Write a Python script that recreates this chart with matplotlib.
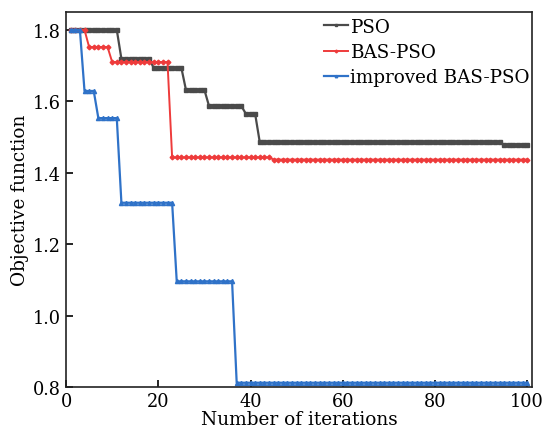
import matplotlib.pyplot as plt

plt.rcParams['font.family'] = ['DejaVu Serif']

# iterations 1..100, step values
iterations = list(range(1, 101))
pso = ([1.800] * 11 + [1.719] * 7 + [1.694] * 7 + [1.632] * 5 +
       [1.587] * 8 + [1.565] * 3 + [1.486] * 53 + [1.478] * 6)
bas_pso = [1.800] * 4 + [1.752] * 5 + [1.710] * 13 + [1.443] * 22 + [1.437] * 56
improved = [1.800] * 3 + [1.629] * 3 + [1.553] * 5 + [1.316] * 12 + [1.096] * 13 + [0.812] * 64

labels = ['PSO', 'BAS-PSO', 'improved BAS-PSO']
xticks = [0, 20, 40, 60, 80, 100]
yticks = [0.8, 1.0, 1.2, 1.4, 1.6, 1.8]

fig = plt.figure(figsize=(5.46, 4.35), dpi=100)
ax = fig.add_axes([0.121, 0.108, 0.853, 0.862])

ax.plot(iterations, pso, color='#4a4a4a', marker='s', markersize=2.6, linewidth=1.6, label=labels[0])
ax.plot(iterations, bas_pso, color='#ee3b3b', marker='D', markersize=2.4, linewidth=1.4, label=labels[1])
ax.plot(iterations, improved, color='#2f72c8', marker='^', markersize=3, linewidth=1.6, label=labels[2])

ax.set_xlim(0, 101)
ax.set_ylim(0.8, 1.85)
ax.set_xticks(xticks)
ax.set_yticks(yticks)
ax.set_yticklabels(['%.1f' % v for v in yticks])
ax.tick_params(direction='in', length=5, width=1.2, labelsize=12.8)
for s in ax.spines.values():
    s.set_linewidth(1.2)
    s.set_color('#222222')

ax.set_xlabel('Number of iterations', fontsize=13.3, labelpad=0)
ax.set_ylabel('Objective function', fontsize=13.3, labelpad=3)

ax.legend(loc='upper right', bbox_to_anchor=(1.0, 0.99), frameon=False, fontsize=13.2,
          handlelength=1.3, handletextpad=0.15, borderaxespad=0, borderpad=0.1,
          labelspacing=0.4, markerscale=0.6)

fig.savefig('out.png', dpi=100)
